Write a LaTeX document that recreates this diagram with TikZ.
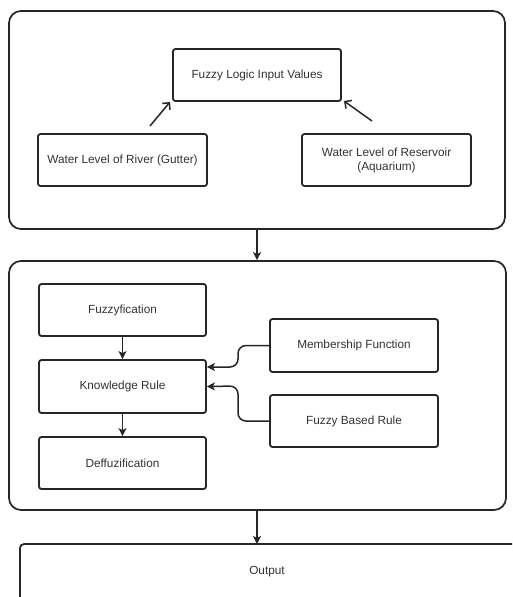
\documentclass[tikz,border=0pt]{standalone}
\usepackage{fontspec}
\setmainfont{Liberation Sans}
\usetikzlibrary{arrows.meta}
\begin{document}
\begin{tikzpicture}[x=1pt,y=-1pt,
  container/.style={draw=black!85, line width=1.7pt, rounded corners=12pt, inner sep=0pt},
  box/.style={draw=black!85, line width=1.8pt, rounded corners=2.5pt, inner sep=2pt, align=center,
    font=\fontsize{11.8}{14}\selectfont, text=black!80},
  conn/.style={line width=1.5pt, draw=black!85, -{Stealth[length=8pt,width=8pt,inset=2pt]}},
  inconn/.style={line width=1.5pt, draw=black!85, -{Straight Barb[length=5pt,width=10pt]}},
  lbl/.style={font=\fontsize{11.8}{14}\selectfont, text=black!80}
]
\useasboundingbox (0,0) rectangle (512,597);
\clip (0,0) rectangle (512,597);
\fill[white] (0,0) rectangle (512,597);

% top container
\node[container, minimum width=496pt, minimum height=218pt] (top) at (257,120) {};
\node[box, minimum width=168pt, minimum height=52pt] (fliv) at (257,75) {Fuzzy Logic Input Values};
\node[box, minimum width=169pt, minimum height=52pt] (river) at (122.5,160) {Water Level of River (Gutter)};
\node[box, minimum width=169pt, minimum height=52pt] (res) at (386.5,160) {Water Level of Reservoir\\(Aquarium)};
\coordinate (a1s) at (150,126);
\coordinate (a1e) at (170,102);
\coordinate (a2s) at (372,121);
\coordinate (a2e) at (344,101);
\draw[inconn] (a1s) -- (a1e);
\draw[inconn] (a2s) -- (a2e);

% second container
\node[container, minimum width=497pt, minimum height=249pt] (mid) at (257.5,385.5) {};
\node[box, minimum width=167pt, minimum height=52pt] (fuzz) at (122.5,310) {Fuzzyfication};
\node[box, minimum width=167pt, minimum height=53pt] (kr) at (122.5,386.5) {Knowledge Rule};
\node[box, minimum width=167pt, minimum height=52pt] (deff) at (122.5,463) {Deffuzification};
\node[box, minimum width=168pt, minimum height=53pt] (mf) at (354,345.5) {Membership Function};
\node[box, minimum width=168pt, minimum height=52pt] (fbr) at (354,421) {Fuzzy Based Rule};

\draw[conn] (fuzz) -- (kr);
\draw[conn] (kr) -- (deff);
\draw[conn, rounded corners=8pt] (mf.west) -- (238,345.5) -- (238,367) -- ([yshift=19.5pt]kr.east);
\draw[conn, rounded corners=8pt] (fbr.west) -- (238,421) -- (238,386) -- (kr.east);

% output box (extends beyond the picture)
\draw[line width=1.7pt, draw=black!85, rounded corners=4pt] (20,640) -- (20,544) -- (560,544);
\coordinate (outtop) at (257,544);
\node[lbl] (out) at (267,572) {Output};

\draw[conn] (top.south) -- (top.south |- mid.north);
\draw[conn] (mid.south -| top.south) -- (outtop);
\end{tikzpicture}
\end{document}
